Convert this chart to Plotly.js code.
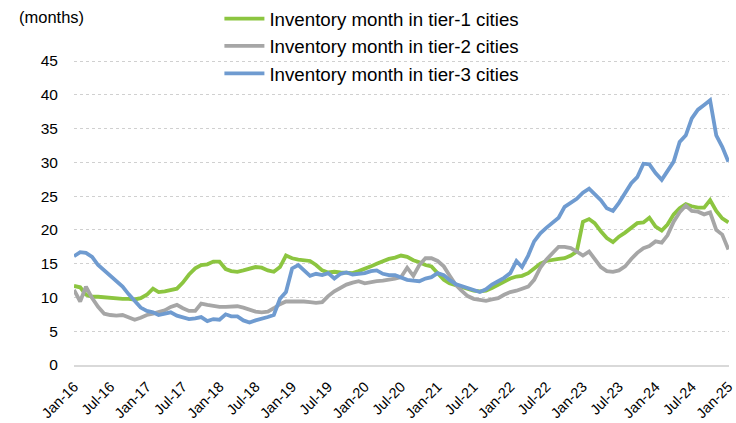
<!DOCTYPE html>
<html>
<head>
<meta charset="utf-8">
<script src="https://cdn.plot.ly/plotly-3.0.1.min.js"></script>
<style>html,body{margin:0;padding:0;background:#fff;}#chart{width:736px;height:423px;}</style>
</head>
<body>
<div id="chart"></div>
<script>
// Monthly observations, Jan-2016 .. Jan-2025 (109 months)
const startMonth = "2016-01";
const tier1 = [11.7,11.5,10.4,10.1,10.1,10.0,9.9,9.8,9.8,9.8,9.7,9.9,10.4,11.3,10.8,10.9,11.1,11.3,12.2,13.4,
  14.3,14.8,14.9,15.3,15.3,14.2,13.9,13.8,14.0,14.2,14.5,14.4,14.0,13.8,14.5,16.2,15.8,15.6,15.5,15.4,
  14.8,14.0,13.7,13.8,13.7,13.7,13.6,13.9,14.2,14.6,15.0,15.4,15.7,15.9,16.2,16.0,15.5,15.2,14.8,14.6,
  13.6,12.6,12.1,11.8,11.5,11.3,11.0,10.9,11.0,11.4,11.9,12.3,12.8,13.1,13.2,13.6,14.3,15.0,15.4,15.6,
  15.7,15.8,16.2,16.8,21.2,21.6,21.0,19.8,18.8,18.2,19.0,19.6,20.4,21.0,21.1,21.8,20.5,19.9,20.8,22.3,
  23.2,23.8,23.5,23.3,23.3,24.4,22.8,21.7,21.1];
const tier2 = [11.1,9.4,11.6,9.9,8.6,7.6,7.4,7.3,7.4,7.0,6.7,7.0,7.4,7.6,7.8,8.1,8.6,8.9,8.4,8.0,
  8.0,9.1,8.9,8.7,8.6,8.6,8.7,8.7,8.5,8.2,7.9,7.8,7.9,8.4,9.0,9.4,9.4,9.5,9.4,9.3,
  9.2,9.3,10.2,10.9,11.4,11.9,12.2,12.4,12.1,12.3,12.4,12.5,12.6,12.8,13.0,14.4,13.2,14.8,15.8,15.8,
  15.4,14.6,13.3,11.9,11.0,10.2,9.8,9.6,9.5,9.7,9.9,10.4,10.8,11.0,11.3,11.6,12.6,14.4,15.6,16.5,
  17.5,17.5,17.3,16.8,16.2,16.8,15.6,14.5,13.9,13.8,14.0,14.6,15.7,16.6,17.3,17.6,18.3,18.1,19.2,21.2,
  22.6,23.6,22.8,22.7,22.3,22.6,20.0,19.3,17.1];
const tier3 = [16.1,16.7,16.6,16.0,14.8,14.0,13.2,12.5,11.6,10.5,9.4,8.5,8.0,7.8,7.4,7.6,7.8,7.3,7.0,6.8,
  6.9,7.1,6.5,6.8,6.7,7.5,7.2,7.2,6.6,6.3,6.6,6.8,7.1,7.4,9.8,10.8,14.3,14.8,14.0,13.2,
  13.5,13.3,13.6,12.8,13.5,13.7,13.4,13.5,13.6,13.9,14.0,13.5,13.3,13.3,12.9,12.6,12.5,12.4,12.8,13.0,
  13.6,13.3,12.6,12.0,11.7,11.4,11.1,10.8,11.2,11.9,12.4,12.9,13.6,15.4,14.5,16.2,18.3,19.5,20.3,21.0,
  21.8,23.4,24.0,24.6,25.5,26.1,25.3,24.4,23.2,22.8,24.0,25.5,26.9,27.8,29.8,29.7,28.4,27.4,28.7,30.1,
  33.0,34.0,36.5,37.8,38.5,39.2,34.0,32.3,30.1];
const seriesNames = ["Inventory month in tier-1 cities","Inventory month in tier-2 cities","Inventory month in tier-3 cities"];
const seriesColors = ["#8cc540","#a6a6a6","#6f9bd0"];
const yTickVals = [0,5,10,15,20,25,30,35,40,45];

const months = [];
{
  let y = +startMonth.slice(0,4), m = +startMonth.slice(5,7);
  for (let i = 0; i < tier1.length; i++) {
    months.push(y + "-" + String(m).padStart(2,"0") + "-01");
    m++; if (m > 12) { m = 1; y++; }
  }
}

const font = "Arial, 'Liberation Sans', sans-serif";
const traces = [tier1, tier2, tier3].map((vals, i) => ({
  type: "scatter", mode: "lines", x: months, y: vals, name: seriesNames[i],
  line: {color: seriesColors[i], width: 3.8}, hoverinfo: "x+y"
}));

// plot area extends above the 45 line so the legend fits inside without pushing margins
const layout = {
  width: 736, height: 423,
  margin: {l: 74, r: 7, t: 0, b: 58},
  paper_bgcolor: "#fff", plot_bgcolor: "#fff",
  font: {family: font, color: "#000", size: 15},
  showlegend: true,
  legend: {x: 0.222, xanchor: "left", y: 1, yanchor: "top",
    font: {family: font, size: 18.7, color: "#000"}, bgcolor: "rgba(0,0,0,0)",
    itemwidth: 40, tracegroupgap: 0},
  xaxis: {
    type: "date", range: ["2016-01-01", "2025-01-04"],
    tick0: "2016-01-01", dtick: "M6", tickformat: "%b-%y", tickangle: -45,
    showgrid: false, zeroline: false, showline: true, linecolor: "#d9d9d9", linewidth: 1.5,
    ticks: "outside", ticklen: 6, tickcolor: "rgba(0,0,0,0)", ticklabeloverflow: "allow",
    tickfont: {family: font, size: 14.5, color: "#000"}
  },
  yaxis: {
    range: [0, 54.03], tickvals: yTickVals, showgrid: true, gridcolor: "#d0d0d0", griddash: "dot", gridwidth: 1,
    zeroline: false, showline: false, ticks: "outside", ticklen: 12, tickcolor: "rgba(0,0,0,0)",
    tickfont: {family: font, size: 15.5, color: "#000"}
  },
  annotations: [{
    text: "(months)", xref: "paper", yref: "paper", x: -0.087, y: 0.9534, xanchor: "left", yanchor: "middle",
    showarrow: false, font: {family: font, size: 16.5, color: "#000"}
  }]
};

Plotly.newPlot("chart", traces, layout, {displayModeBar: false, staticPlot: true});
</script>
</body>
</html>
